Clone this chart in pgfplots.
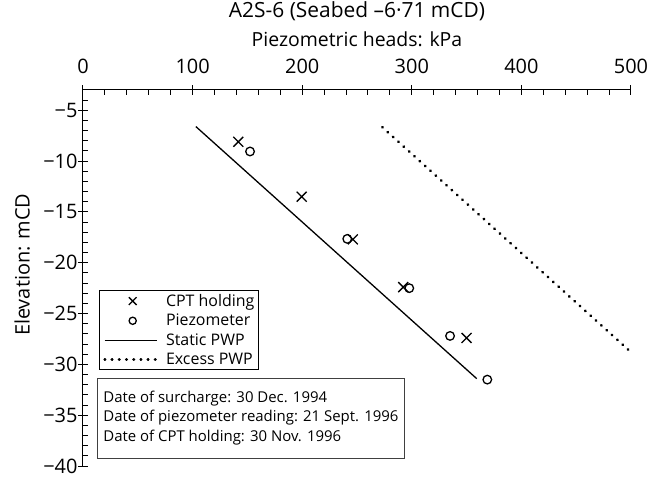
\documentclass[border=0pt]{standalone}
\usepackage{fontspec}
\setmainfont{Open Sans}
\usepackage{pgfplots}
\pgfplotsset{compat=1.18}
\pgfplotsset{
  markleg/.style={legend image code/.code={\draw[##1, mark size=5.5bp] plot coordinates {(30bp,0bp)}; \path (0bp,0bp) (60bp,0bp);}},
  oleg/.style={legend image code/.code={\draw[##1, mark size=3.6bp] plot coordinates {(30bp,0bp)}; \path (0bp,0bp) (60bp,0bp);}},
  lineleg/.style={legend image code/.code={\draw[##1] (2bp,0bp) -- (54bp,0bp); \path (0bp,0bp) (60bp,0bp);}},
}
\begin{document}
\begin{tikzpicture}
\begin{axis}[
  scale only axis, width=548bp, height=376bp,
  xmin=0, xmax=500, ymin=-40, ymax=-3,
  axis x line*=top, axis y line*=left,
  axis line style={line width=1bp},
  every tick/.style={black, line width=1bp},
  xtick={0,100,...,500},
  xticklabels={0,100,200,300,400,500},
  minor xtick={0,20,...,500},
  ytick={-40,-35,...,-5},
  yticklabels={−40,−35,−30,−25,−20,−15,−10,−5},
  minor ytick={-40,-39,...,-3},
  tick align=inside,
  major tick length=5bp, minor tick length=5bp,
  extra x ticks={0,100,...,500}, extra x tick labels={},
  extra y ticks={-40,-35,...,-5}, extra y tick labels={},
  extra tick style={tick align=outside, major tick length=4.5bp},
  tick label style={font=\fontsize{20}{22}\selectfont},
  xticklabel style={anchor=base, yshift=16.5bp},
  yticklabel style={anchor=east, xshift=-2bp},
  title={A2S-6 (Seabed –6·71 mCD)},
  title style={at={(axis description cs:0.5,1)}, anchor=base, yshift=67bp, font=\fontsize{21}{23}\selectfont},
  xlabel={Piezometric heads: kPa},
  xlabel style={at={(axis description cs:0.5,1)}, anchor=base, yshift=43bp, font=\fontsize{19.5}{22}\selectfont},
  ylabel={Elevation: mCD},
  ylabel style={at={(axis description cs:-0.111,0.535)}, anchor=center, rotate=0, font=\fontsize{20}{22}\selectfont},
  legend style={at={(axis description cs:0.029,0.467)}, anchor=north west, draw=black, line width=0.8bp,
    font=\fontsize{16}{18}\selectfont, row sep=2.3bp, inner xsep=2bp, inner ysep=1.5bp},
  legend cell align=left,
  clip=false,
]
\addplot[only marks, mark=x, mark size=7bp, mark options={line width=1.3bp}, black, markleg]
  coordinates {(141.7,-8.1) (199.5,-13.5) (246.2,-17.7) (292.2,-22.4) (350,-27.4)};
\addlegendentry{CPT holding\hspace{16bp}}
\addplot[only marks, mark=o, mark size=4.3bp, mark options={line width=1.3bp}, black, oleg]
  coordinates {(152.4,-9.05) (241.1,-17.65) (297.7,-22.5) (334.9,-27.2) (368.9,-31.5)};
\addlegendentry{Piezometer}
\addplot[black, line width=1.3bp, lineleg]
  coordinates {(103,-6.6) (359.2,-31.4)};
\addlegendentry{Static PWP}
\addplot[black, line width=2.8bp, line cap=round, dash pattern=on 0.4bp off 6.8bp, lineleg]
  coordinates {(273.1,-6.66) (500,-28.8)};
\addlegendentry{Excess PWP}
\node[draw=black!75, line width=0.8bp, anchor=north west, align=left,
  font=\fontsize{15}{19.5}\selectfont, inner xsep=6bp, inner ysep=5bp, minimum height=80bp]
  at (rel axis cs:0.0255,0.235)
  {Date of surcharge: 30 Dec. 1994\\Date of piezometer reading: 21 Sept. 1996\\Date of CPT holding: 30 Nov. 1996};
\end{axis}
\pgfresetboundingbox
\path (current axis.south west) ++(-83bp,-13bp) rectangle ++(650bp,479bp);
\end{tikzpicture}
\end{document}
